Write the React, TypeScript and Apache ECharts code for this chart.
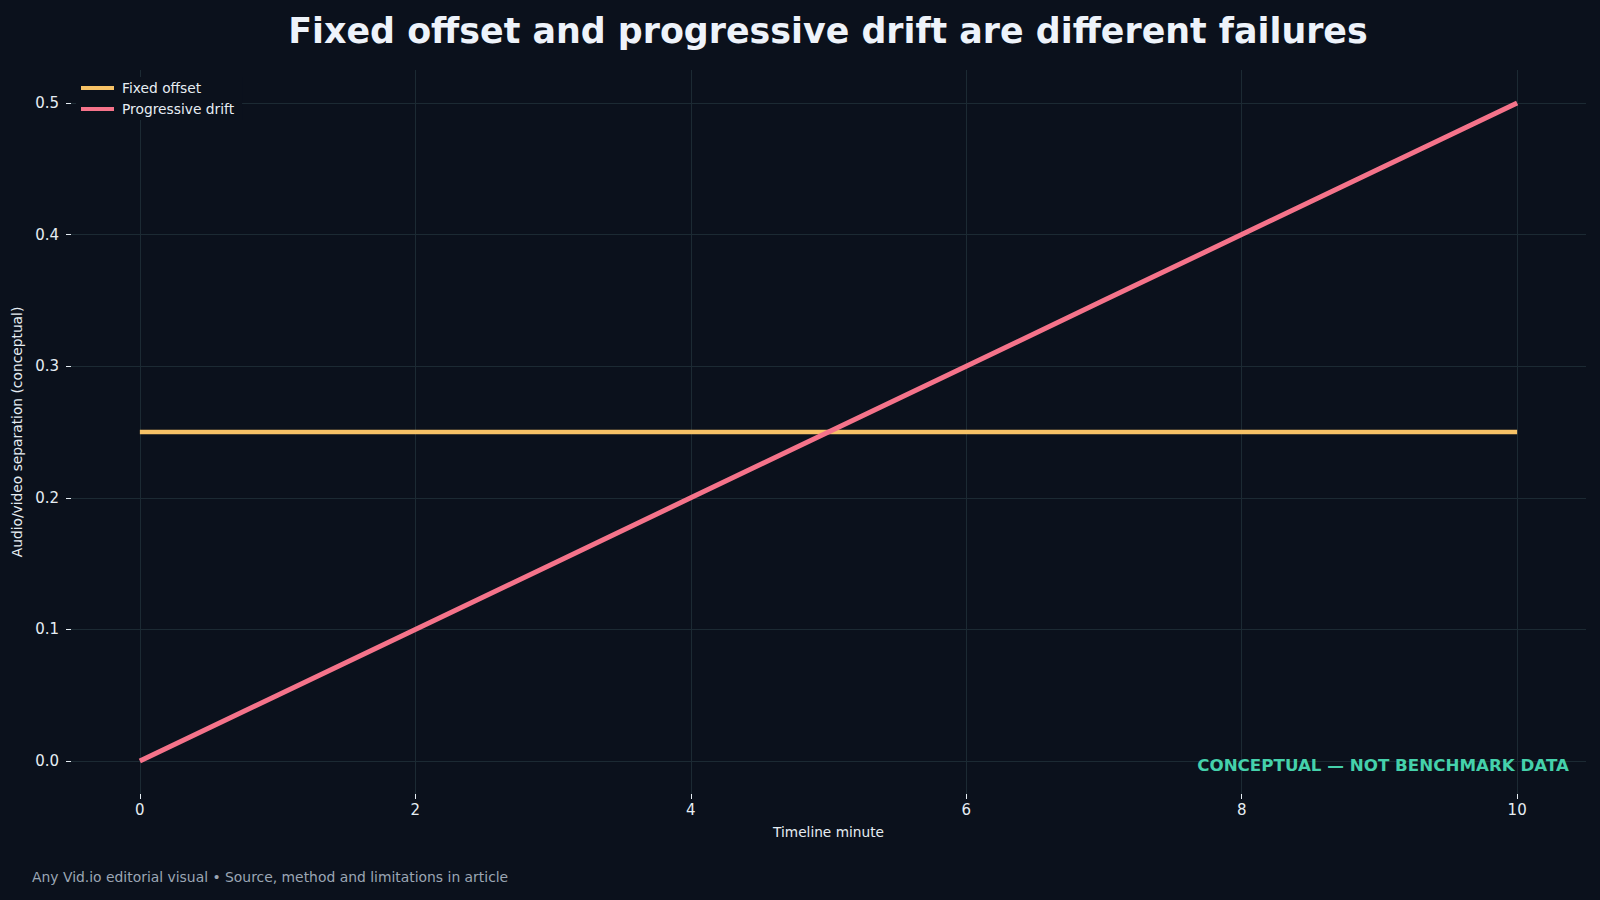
import React, { useEffect, useRef } from "react";
import * as echarts from "echarts";

// timeline minutes and conceptual separation (seconds)
const minutes = [0, 1, 2, 3, 4, 5, 6, 7, 8, 9, 10];
const fixedOffset = [0.25, 0.25, 0.25, 0.25, 0.25, 0.25, 0.25, 0.25, 0.25, 0.25, 0.25];
const progressiveDrift = [0, 0.05, 0.1, 0.15, 0.2, 0.25, 0.3, 0.35, 0.4, 0.45, 0.5];

const xTicks = [0, 2, 4, 6, 8, 10];
const yTicks = [0, 0.1, 0.2, 0.3, 0.4, 0.5];

const BG = "#0b111c";
const GRID = "#1c2a33";
const TICK = "#e6edf3";
const FONT = "DejaVu Sans";

const App: React.FC = () => {
  const chartRef = useRef<HTMLDivElement>(null);

  useEffect(() => {
    if (!chartRef.current) return;
    const chart = echarts.init(chartRef.current, undefined, { renderer: "svg" });

    const option = {
      animation: false,
      backgroundColor: BG,
      textStyle: { fontFamily: FONT },
      grid: { left: 71, right: 14, top: 70, bottom: 106 },
      legend: {
        data: ["Fixed offset", "Progressive drift"],
        orient: "vertical",
        left: 76,
        top: 77,
        padding: [4, 8, 4, 5],
        backgroundColor: BG,
        z: 20,
        icon: "rect",
        itemWidth: 33,
        itemHeight: 4,
        itemGap: 7,
        textStyle: { color: "#e6edf3", fontSize: 13.8, fontFamily: FONT, padding: [0, 0, 0, 3] },
      },
      xAxis: {
        type: "value",
        min: -0.5,
        max: 10.5,
        name: "Timeline minute",
        nameLocation: "middle",
        nameGap: 31,
        nameTextStyle: { color: "#e6edf3", fontSize: 13.7, fontFamily: FONT },
        axisLine: { show: true, onZero: false, lineStyle: { color: "rgba(0,0,0,0)" } },
        axisTick: { show: true, length: 5, lineStyle: { color: TICK, width: 1 }, customValues: xTicks },
        axisLabel: {
          color: TICK,
          fontSize: 15,
          margin: 8,
          customValues: xTicks,
          formatter: (v: number) => String(v),
        },
        splitLine: { show: false },
      },
      yAxis: {
        type: "value",
        min: -0.025,
        max: 0.525,
        name: "Audio/video separation (conceptual)",
        nameLocation: "middle",
        nameGap: 40,
        nameTextStyle: { color: "#e6edf3", fontSize: 13.8, fontFamily: FONT },
        axisLine: { show: true, onZero: false, lineStyle: { color: "rgba(0,0,0,0)" } },
        axisTick: { show: true, length: 5, lineStyle: { color: TICK, width: 1 }, customValues: yTicks },
        axisLabel: {
          color: TICK,
          fontSize: 15,
          margin: 12,
          customValues: yTicks,
          formatter: (v: number) => v.toFixed(1),
        },
        splitLine: { show: false },
      },
      series: [
        {
          // gridlines only, drawn under the data lines
          name: "grid",
          type: "line",
          data: [],
          z: 0,
          silent: true,
          markLine: {
            z: 0,
            silent: true,
            symbol: "none",
            label: { show: false },
            lineStyle: { color: GRID, width: 1, type: "solid" },
            data: [
              ...xTicks.map((v) => ({ xAxis: v })),
              ...yTicks.map((v) => ({ yAxis: v })),
            ],
          },
        },
        {
          name: "Fixed offset",
          type: "line",
          data: minutes.map((m, i) => [m, fixedOffset[i]]),
          showSymbol: false,
          z: 8,
          itemStyle: { color: "#f7c266" },
          lineStyle: { color: "#f7c266", width: 4.5 },
        },
        {
          name: "Progressive drift",
          type: "line",
          data: minutes.map((m, i) => [m, progressiveDrift[i]]),
          showSymbol: false,
          z: 9,
          itemStyle: { color: "#f5738a" },
          lineStyle: { color: "#f5738a", width: 5 },
        },
      ],
      graphic: [
        {
          type: "text",
          x: 828,
          y: 30.5,
          style: {
            text: "Fixed offset and progressive drift are different failures",
            font: `bold 34.85px "${FONT}"`,
            fill: "#eef3fa",
            textAlign: "center",
            textVerticalAlign: "middle",
          },
        },
        {
          type: "text",
          x: 1569,
          y: 765,
          z: 10,
          style: {
            text: "CONCEPTUAL — NOT BENCHMARK DATA",
            font: `bold 16.7px "${FONT}"`,
            fill: "#45d1ab",
            textAlign: "right",
            textVerticalAlign: "middle",
          },
        },
        {
          type: "text",
          x: 32,
          y: 877,
          style: {
            text: "Any Vid.io editorial visual • Source, method and limitations in article",
            font: `13.9px "${FONT}"`,
            fill: "#9ba6b4",
            textAlign: "left",
            textVerticalAlign: "middle",
          },
        },
      ],
    };

    chart.setOption(option);

    const observer = new ResizeObserver(() => chart.resize());
    observer.observe(chartRef.current);

    return () => {
      observer.disconnect();
      chart.dispose();
    };
  }, []);

  return (
    <div
      ref={chartRef}
      style={{ position: "fixed", left: 0, top: 0, width: 1600, height: 900, background: BG }}
    />
  );
};

export default App;
